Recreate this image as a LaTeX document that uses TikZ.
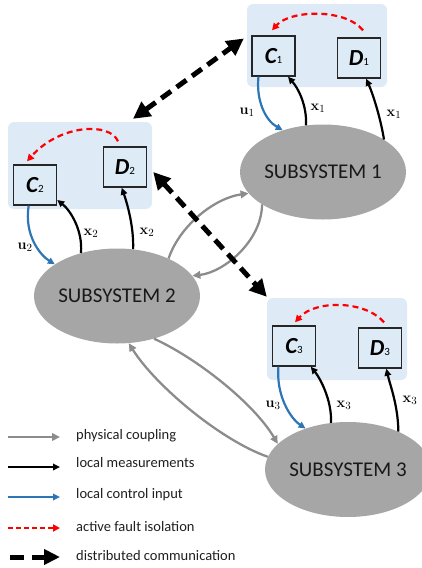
\documentclass[tikz,border=0pt]{standalone}
\usepackage[no-math]{fontspec}
\setmainfont{Carlito}
\usetikzlibrary{arrows.meta,shapes.geometric,calc}
\definecolor{panelblue}{HTML}{DEEBF7}
\definecolor{boxblue}{HTML}{DDEBF7}
\definecolor{ssgrey}{HTML}{A6A6A6}
\definecolor{cplgrey}{HTML}{8C8C8C}
\definecolor{ctrlblue}{HTML}{2E75B6}
\definecolor{faultred}{HTML}{FF0000}
\newcommand{\ctlabel}[2]{{\fontsize{23}{26}\selectfont\bfseries\itshape #1}{\fontsize{11}{12}\selectfont #2}}
\begin{document}
\begin{tikzpicture}[x=1pt,y=-1pt,
  panel/.style={fill=panelblue, rounded corners=6pt, draw=none, inner sep=0pt},
  ctl/.style={draw=black!85, line width=1.4pt, fill=boxblue, minimum width=43pt, minimum height=40pt, inner sep=0pt},
  subsys/.style={ellipse, fill=ssgrey, minimum width=154pt, minimum height=95pt, inner sep=0pt, font=\fontsize{21}{24}\selectfont, text=black!90},
  cpl/.style={draw=cplgrey, line width=2.3pt, -{Triangle[length=8pt,width=7.5pt]}},
  meas/.style={draw=black, line width=2.2pt, -{Triangle[length=7pt,width=6.5pt]}},
  ctrl/.style={draw=ctrlblue, line width=2.2pt, -{Triangle[length=7pt,width=6.5pt]}},
  fault/.style={draw=faultred, line width=2.2pt, dash pattern=on 6pt off 4pt, -{Triangle[length=7pt,width=7pt]}},
  comm/.style={draw=black, line width=5pt, dash pattern=on 12pt off 7pt, {Triangle[length=17pt,width=17pt]}-{Triangle[length=17pt,width=17pt]}},
  lbl/.style={inner sep=0pt, font=\fontsize{15}{17}\selectfont},
  legtext/.style={anchor=west, inner sep=0pt, font=\fontsize{14.5}{17}\selectfont, text=black!88}
]
\useasboundingbox (0,0) rectangle (421,568);

% panels
\node[panel, minimum width=140pt, minimum height=83pt] (P1) at (317,45.5) {};
\node[panel, minimum width=144pt, minimum height=87pt] (P2) at (80,165.5) {};
\node[panel, minimum width=140pt, minimum height=82pt] (P3) at (337,339) {};

% controller / diagnoser boxes
\node[ctl] (C1) at (273.5,56) {\ctlabel{C}{1}};
\node[ctl] (D1) at (359,58) {\ctlabel{D}{1}};
\node[ctl] (C2) at (35,185) {\ctlabel{C}{2}};
\node[ctl] (D2) at (125,167) {\ctlabel{D}{2}};
\node[ctl] (C3) at (294,346) {\ctlabel{C}{3}};
\node[ctl] (D3) at (380,348) {\ctlabel{D}{3}};

% subsystems
\node[subsys] (S1) at (323,172) {SUBSYSTEM 1};
\node[subsys] (S2) at (117,296) {SUBSYSTEM 2};
\node[subsys] (S3) at (348,469.5) {SUBSYSTEM 3};

% subsystem 1 loop
\draw[ctrl] (C1.234) .. controls (256,100) and (265,120) .. (S1.134);
\draw[meas] (S1.110) .. controls (307,105) and (298,88) .. (C1.305);
\draw[meas] (S1.28) .. controls (380,115) and (372,92) .. (D1.289);
\draw[fault] ([shift={(4,-7)}]D1.north) .. controls (345,8) and (290,10) .. ([shift={(-1.5,-5)}]C1.north);

% subsystem 2 loop
\draw[ctrl] (C2.253) .. controls (24,235) and (40,255) .. (S2.153);
\draw[meas] (S2.130) .. controls (83,230) and (70,210) .. (C2.-34);
\draw[meas] (S2.71) .. controls (134,225) and (126,200) .. (D2.261);
\draw[fault] ([shift={(-7,-5)}]D2.north) .. controls (110,122) and (60,124) .. ([shift={(-8,-3)}]C2.north);

% subsystem 3 loop
\draw[ctrl] (C3.233) .. controls (276,395) and (290,418) .. (S3.136);
\draw[meas] (S3.110) .. controls (332,400) and (320,378) .. (C3.-51);
\draw[meas] (S3.37) .. controls (398,405) and (390,385) .. (D3.-73);
\draw[fault] ([shift={(4,-5)}]D3.north) .. controls (365,300) and (315,300) .. ([shift={(1,-3)}]C3.north);

% physical coupling
\draw[cpl] (S2.36) .. controls (180,225) and (215,198) .. (S1.196);
\draw[cpl] (S1.208) .. controls (262,240) and (225,272) .. (S2.15);
\draw[cpl] (S2.-49) .. controls (200,360) and (255,405) .. (S3.160);
\draw[cpl] (S3.171) .. controls (220,440) and (155,385) .. (S2.-76);

% labels
\node[lbl] (lu1) at (247,112) {$\mathbf{u}_1$};
\node[lbl] (lx1a) at (318,108) {$\mathbf{x}_1$};
\node[lbl] (lx1b) at (394,114) {$\mathbf{x}_1$};
\node[lbl] (lu2) at (25,247) {$\mathbf{u}_2$};
\node[lbl] (lx2a) at (91,233) {$\mathbf{x}_2$};
\node[lbl] (lx2b) at (147,232) {$\mathbf{x}_2$};
\node[lbl] (lu3) at (273,405) {$\mathbf{u}_3$};
\node[lbl] (lx3a) at (344,405) {$\mathbf{x}_3$};
\node[lbl] (lx3b) at (410,400) {$\mathbf{x}_3$};

% distributed communication
\draw[comm] ([shift={(53,-3)}]P2.north) -- ([shift={(-3,-7)}]P1.west);
\draw[comm] ([shift={(6,5)}]D2.east) -- ([shift={(0,-1)}]P3.north west);

% legend
\coordinate (g1a) at (8,437);  \coordinate (g1b) at (60,437);
\coordinate (g2a) at (8,467);  \coordinate (g2b) at (60,467);
\coordinate (g3a) at (8,497);  \coordinate (g3b) at (60,497);
\coordinate (g4a) at (8,528);  \coordinate (g4b) at (60,528);
\coordinate (g5a) at (10,557); \coordinate (g5b) at (60,557);
\draw[cpl] (g1a) -- (g1b);
\draw[meas] (g2a) -- (g2b);
\draw[ctrl] (g3a) -- (g3b);
\draw[fault, dash pattern=on 5pt off 3pt] (g4a) -- (g4b);
\draw[draw=black, line width=5pt, dash pattern=on 14pt off 8pt, -{Triangle[length=16pt,width=15pt]}] (g5a) -- (g5b);
\node[legtext] (t1) at (76,436) {physical coupling};
\node[legtext] (t2) at (76,463) {local measurements};
\node[legtext] (t3) at (76,495) {local control input};
\node[legtext] (t4) at (76,527) {active fault isolation};
\node[legtext] (t5) at (76,556) {distributed communication};
\end{tikzpicture}
\end{document}
